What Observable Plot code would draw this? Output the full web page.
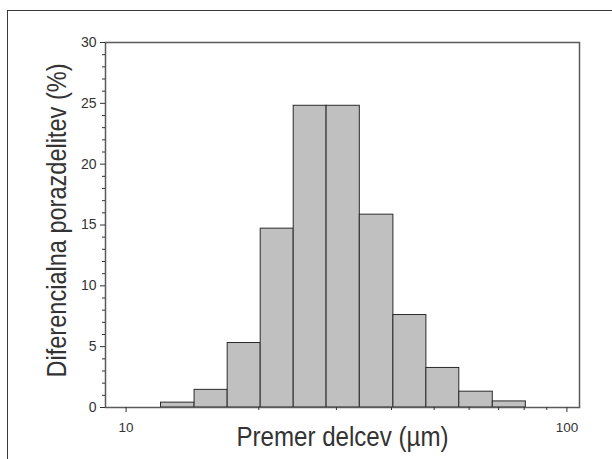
<!DOCTYPE html>
<html><head><meta charset="utf-8">
<script src="https://cdn.jsdelivr.net/npm/d3@7"></script>
<script src="https://cdn.jsdelivr.net/npm/@observablehq/plot@0.6"></script>
<style>
body{margin:0;background:#fff;}
#wrap{position:relative;width:612px;height:459px;overflow:hidden;background:#fff;}
#border{position:absolute;left:7px;top:10px;right:-5px;bottom:-5px;border-left:1.5px solid #3a3a3a;border-top:1.5px solid #3a3a3a;pointer-events:none;}
#wrap svg{position:absolute;left:0;top:0;}
</style></head><body><div id="wrap"><div id="border"></div></div>
<script>
const binLo = [12, 14.3, 17, 20.2, 24, 28.5, 33.9, 40.4, 48, 57, 67.9];
const binHi = [14.3, 17, 20.2, 24, 28.5, 33.9, 40.4, 48, 57, 67.9, 80.7];
const percent = [0.4, 1.45, 5.3, 14.7, 24.8, 24.8, 15.85, 7.6, 3.25, 1.3, 0.5];
const xMajorTicks = [10, 100];
const xMinorTicks = [20, 30, 40, 50, 60, 70, 80, 90];
const yMajorTicks = [0, 5, 10, 15, 20, 25, 30];
const yMinorTicks = [1, 2, 3, 4, 6, 7, 8, 9, 11, 12, 13, 14, 16, 17, 18, 19, 21, 22, 23, 24, 26, 27, 28, 29];
const xTitle = "Premer delcev (µm)";
const yTitle = "Diferencialna porazdelitev (%)";

const data = percent.map((v, i) => ({x1: binLo[i], x2: binHi[i], y: v}));

const plot = Plot.plot({
  width: 612, height: 459,
  marginLeft: 105, marginRight: 33, marginTop: 42, marginBottom: 52,
  style: {fontFamily: "'Liberation Sans', Arial, sans-serif", fontSize: "14px", color: "#333", background: "transparent"},
  x: {type: "log", domain: [8.98, 106.8]},
  y: {domain: [0, 30]},
  marks: [
    Plot.rectY(data, {x1: "x1", x2: "x2", y: "y", fill: "#c0c0c0", stroke: "#2a2a2a", strokeWidth: 1}),
    Plot.frame({stroke: "#5a5a5a", strokeWidth: 1.5}),
    Plot.axisX({ticks: xMajorTicks, tickSize: 5, tickPadding: 10, tickFormat: d => String(d), label: null, fontSize: 13.5}),
    Plot.axisX({ticks: xMinorTicks, tickSize: 3, tickFormat: () => "", label: null}),
    Plot.axisY({ticks: yMajorTicks, tickSize: 5, tickPadding: 4, label: null, fontSize: 14}),
    Plot.axisY({ticks: yMinorTicks, tickSize: 3, tickFormat: () => "", label: null}),
    Plot.text([xTitle], {text: d => d, frameAnchor: "bottom", textAnchor: "middle", dy: 38, lineAnchor: "bottom", fontSize: 27, fill: "#333"}),
    Plot.text([yTitle], {text: d => d, frameAnchor: "left", textAnchor: "middle", rotate: -90, dx: -40, dy: -4.5, lineAnchor: "bottom", fontSize: 27, fill: "#333"})
  ]
});
document.getElementById("wrap").appendChild(plot);
d3.select(plot).selectAll("text").each(function() {
  const t = this.textContent;
  if (t === xTitle) { this.setAttribute("textLength", 212); this.setAttribute("lengthAdjust", "spacingAndGlyphs"); }
  if (t === yTitle) { this.setAttribute("textLength", 314); this.setAttribute("lengthAdjust", "spacingAndGlyphs"); }
});
</script></body></html>
